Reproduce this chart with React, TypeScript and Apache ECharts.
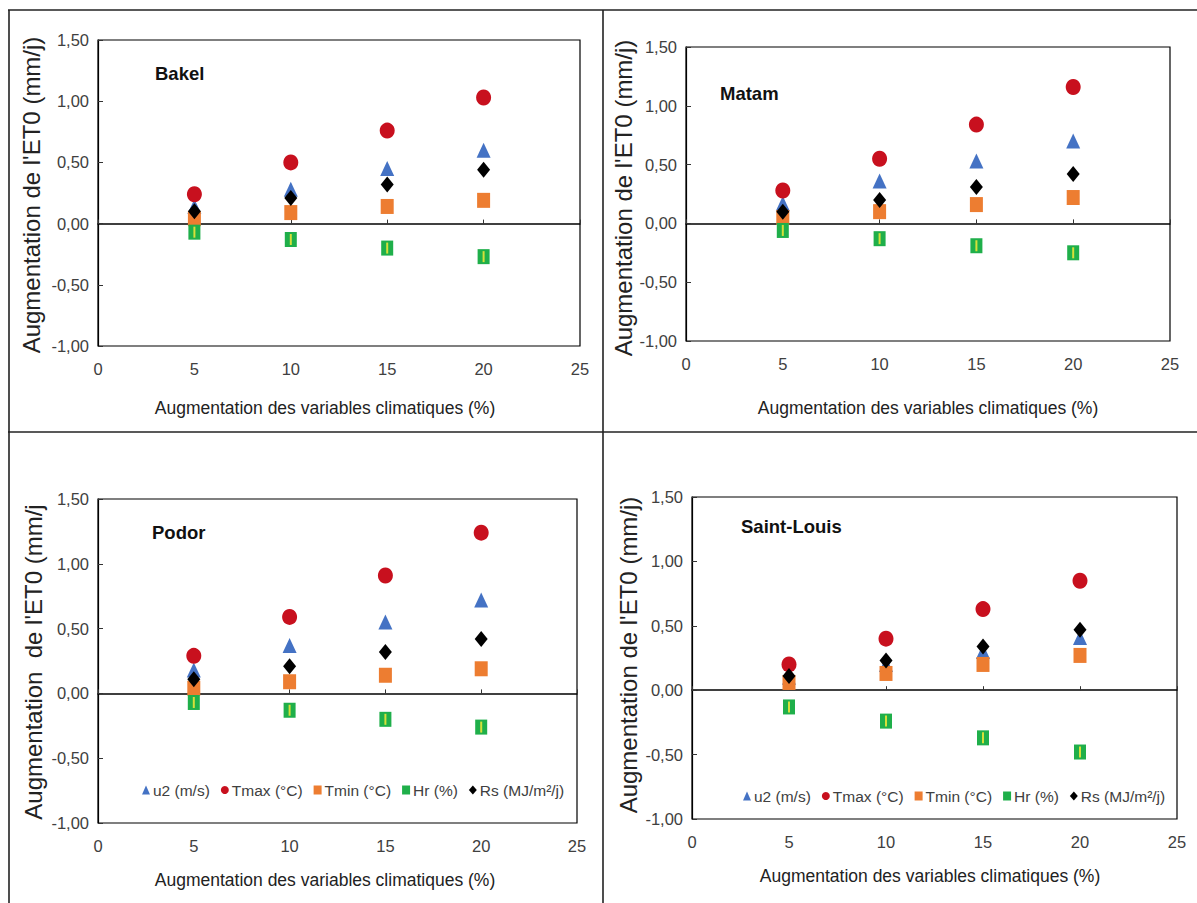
import React, { useEffect, useRef } from "react";
import * as echarts from "echarts";

// ---- data ----
const xPct = [5, 10, 15, 20];
const stations = ["Bakel", "Matam", "Podor", "Saint-Louis"];
const seriesNames = ["u2 (m/s)", "Tmax (°C)", "Tmin (°C)", "Hr (%)", "Rs (MJ/m²/j)"];
const xTickValues = [0, 5, 10, 15, 20, 25];
const yTickValues = [-1, -0.5, 0, 0.5, 1, 1.5];

const bakelU2 = [0.14, 0.28, 0.45, 0.6];
const bakelTmax = [0.24, 0.5, 0.76, 1.03];
const bakelTmin = [0.04, 0.09, 0.14, 0.19];
const bakelHr = [-0.07, -0.13, -0.2, -0.27];
const bakelRs = [0.1, 0.21, 0.32, 0.44];

const matamU2 = [0.17, 0.36, 0.53, 0.7];
const matamTmax = [0.28, 0.55, 0.84, 1.16];
const matamTmin = [0.05, 0.1, 0.16, 0.22];
const matamHr = [-0.06, -0.13, -0.19, -0.25];
const matamRs = [0.1, 0.2, 0.31, 0.42];

const podorU2 = [0.18, 0.37, 0.55, 0.72];
const podorTmax = [0.29, 0.59, 0.91, 1.24];
const podorTmin = [0.04, 0.09, 0.14, 0.19];
const podorHr = [-0.07, -0.13, -0.2, -0.26];
const podorRs = [0.11, 0.21, 0.32, 0.42];

const slU2 = [0.1, 0.2, 0.3, 0.41];
const slTmax = [0.2, 0.4, 0.63, 0.85];
const slTmin = [0.06, 0.13, 0.2, 0.27];
const slHr = [-0.13, -0.24, -0.37, -0.48];
const slRs = [0.11, 0.23, 0.34, 0.47];

const yTitles = [
  "Augmentation de l'ET0 (mm/j)",
  "Augmentation de l'ET0 (mm/j)",
  "Augmentation  de l'ET0 (mm/j",
  "Augmentation de l'ET0 (mm/j)",
];
const xTitle = "Augmentation des variables climatiques (%)";

// ---- styling / layout ----
const FONT = '"Liberation Sans", Arial, sans-serif';
const colors = ["#4472C4", "#C8101E", "#ED7D31", "#1FAF4A", "#000000"];
const symbols = ["triangle", "circle", "rect", "rect", "diamond"];
const sizes: any[] = [[14, 15], [15, 16], [13, 15], [12, 15], [13, 16]];

const panelData = [
  [bakelU2, bakelTmax, bakelTmin, bakelHr, bakelRs],
  [matamU2, matamTmax, matamTmin, matamHr, matamRs],
  [podorU2, podorTmax, podorTmin, podorHr, podorRs],
  [slU2, slTmax, slTmin, slHr, slRs],
];

const layouts = [
  { grid: { left: 98, top: 40, width: 482, height: 306 }, name: [155, 73], xt: [325, 408], yt: [31, 195] },
  { grid: { left: 686, top: 47, width: 484, height: 294 }, name: [720, 93], xt: [928, 408], yt: [623, 198] },
  { grid: { left: 98, top: 499, width: 479, height: 324 }, name: [152, 532], xt: [325, 880], yt: [33, 662] },
  { grid: { left: 692, top: 497, width: 485, height: 322 }, name: [741, 526], xt: [930, 876], yt: [628, 655] },
];

function fmtY(v: number) {
  return v.toFixed(2).replace(".", ",");
}

export default function App() {
  const ref = useRef<HTMLDivElement>(null);
  useEffect(() => {
    if (!ref.current) return;
    const chart = echarts.init(ref.current, undefined, { renderer: "svg" });

    const grids = layouts.map((l) => ({
      ...l.grid,
      show: true,
      borderColor: "#000",
      borderWidth: 1.2,
      backgroundColor: "#fff",
      containLabel: false,
    }));

    const xMain = layouts.map((_, i) => ({
      type: "value",
      gridIndex: i,
      min: xTickValues[0],
      max: xTickValues[xTickValues.length - 1],
      interval: xTickValues[1] - xTickValues[0],
      axisLine: { show: false, onZero: false },
      axisTick: { show: false },
      splitLine: { show: false },
      axisLabel: { color: "#404040", fontSize: 16.5, fontFamily: FONT, margin: 14 },
    }));
    const xZero = layouts.map((_, i) => ({
      type: "value",
      gridIndex: i,
      min: xTickValues[0],
      max: xTickValues[xTickValues.length - 1],
      interval: xTickValues[1] - xTickValues[0],
      axisLine: { show: true, onZero: true, onZeroAxisIndex: i, lineStyle: { color: "#000", width: 1.5 } },
      axisTick: { show: true, length: 4, lineStyle: { color: "#333" } },
      splitLine: { show: false },
      axisLabel: { show: false },
    }));
    const yAxes = layouts.map((_, i) => ({
      type: "value",
      gridIndex: i,
      min: yTickValues[0],
      max: yTickValues[yTickValues.length - 1],
      interval: yTickValues[1] - yTickValues[0],
      axisLine: { show: true, onZero: false, lineStyle: { color: "#000", width: 1.2 } },
      axisTick: { show: true, inside: true, length: 5, lineStyle: { color: "#333" } },
      splitLine: { show: false },
      axisLabel: { color: "#404040", fontSize: 16.5, fontFamily: FONT, margin: 9, formatter: fmtY },
    }));

    const series: any[] = [];
    panelData.forEach((vals, i) => {
      vals.forEach((arr, j) => {
        series.push({
          type: "scatter",
          name: seriesNames[j],
          xAxisIndex: i,
          yAxisIndex: i,
          data: xPct.map((x, k) => [x, arr[k]]),
          symbol: symbols[j],
          symbolSize: sizes[j],
          itemStyle: { color: colors[j], opacity: 1 },
          z: 2 + j,
          silent: true,
        });
        if (j === 3) {
          series.push({
            type: "scatter",
            name: "Hr-pattern",
            xAxisIndex: i,
            yAxisIndex: i,
            data: xPct.map((x, k) => [x, arr[k]]),
            symbol: "rect",
            symbolSize: [2, 11],
            itemStyle: { color: "#D6E03A", opacity: 1 },
            z: 5,
            silent: true,
          });
        }
      });
    });

    const legendData = seriesNames.map((n, j) => ({
      name: n,
      icon: j === 0 ? "triangle" : j === 1 ? "circle" : j === 4 ? "diamond" : "rect",
    }));
    const legendBase = {
      orient: "horizontal",
      itemWidth: 8,
      itemHeight: 9,
      itemGap: 11,
      data: legendData,
      textStyle: { color: "#404040", fontSize: 15.5, fontFamily: FONT, padding: [0, 0, 0, -2] },
      selectedMode: false,
    };

    const graphics: any[] = [];
    layouts.forEach((l, i) => {
      graphics.push({
        type: "text",
        x: l.name[0],
        y: l.name[1],
        style: {
          text: stations[i],
          font: `bold 18.5px ${FONT}`,
          fill: "#111",
          textAlign: "left",
          textVerticalAlign: "middle",
        },
        z: 50,
      });
      graphics.push({
        type: "text",
        x: l.xt[0],
        y: l.xt[1],
        style: {
          text: xTitle,
          font: `17.5px ${FONT}`,
          fill: "#222",
          textAlign: "center",
          textVerticalAlign: "middle",
        },
        z: 50,
      });
      graphics.push({
        type: "text",
        x: l.yt[0],
        y: l.yt[1],
        rotation: Math.PI / 2,
        style: {
          text: yTitles[i],
          font: `24px ${FONT}`,
          fill: "#222",
          textAlign: "center",
          textVerticalAlign: "middle",
        },
        z: 50,
      });
    });
    const frame = { stroke: "#222", lineWidth: 1.6 };
    graphics.push({ type: "line", shape: { x1: 8, y1: 10, x2: 1197, y2: 10 }, style: frame, z: 60 });
    graphics.push({ type: "line", shape: { x1: 9, y1: 10, x2: 9, y2: 903 }, style: frame, z: 60 });
    graphics.push({ type: "line", shape: { x1: 603, y1: 10, x2: 603, y2: 903 }, style: frame, z: 60 });
    graphics.push({ type: "line", shape: { x1: 8, y1: 432, x2: 1197, y2: 432 }, style: frame, z: 60 });

    chart.setOption({
      animation: false,
      backgroundColor: "#fff",
      grid: grids,
      xAxis: [...xMain, ...xZero],
      yAxis: yAxes,
      legend: [
        { ...legendBase, left: 137, top: 777 },
        { ...legendBase, left: 738, top: 783 },
      ],
      series,
      graphic: graphics,
    });
    return () => chart.dispose();
  }, []);

  return (
    <div
      ref={ref}
      style={{ position: "absolute", left: 0, top: 0, width: 1197, height: 903, background: "#fff" }}
    />
  );
}
